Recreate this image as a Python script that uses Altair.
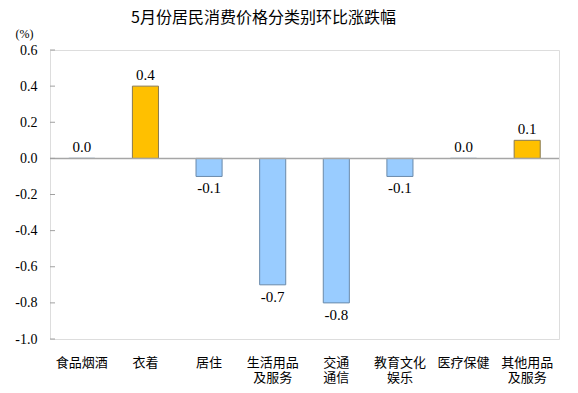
import altair as alt
import pandas as pd

categories = ["食品烟酒", "衣着", "居住", "生活用品\n及服务", "交通\n通信", "教育文化\n娱乐", "医疗保健", "其他用品\n及服务"]
values = [0.0, 0.4, -0.1, -0.7, -0.8, -0.1, 0.0, 0.1]
y_ticks = [-1.0, -0.8, -0.6, -0.4, -0.2, 0.0, 0.2, 0.4, 0.6]
title_text = "5月份居民消费价格分类别环比涨跌幅"
unit_text = "(%)"

df = pd.DataFrame({"cat": categories, "val": values})
df["lbl"] = df["val"].map(lambda v: f"{v:.1f}")
ticks_df = pd.DataFrame({"t": y_ticks})

serif = "Liberation Serif"
cjk = "Noto Sans CJK SC"

x_axis = alt.Axis(
    title=None, labelAngle=0, ticks=False, domain=False,
    labelFont=cjk, labelFontSize=13, labelColor="#000000",
    labelPadding=17, labelLineHeight=15, labelOverlap=False,
    labelExpr="split(datum.label, '\\n')",
)
y_axis = alt.Axis(
    values=y_ticks, grid=False, domain=False, ticks=False,
    labelExpr="replace(format(datum.value, '.1f'), '\u2212', '-')",
    labelFont=serif, labelFontSize=14, labelFontWeight="normal",
    labelColor="#000000", labelPadding=13, labelOverlap=False,
    title=unit_text, titleAngle=0, titleFont=serif, titleFontSize=12,
    titleFontWeight="normal", titleColor="#000000",
    titleX=-35, titleY=-17, titleAlign="left", titleBaseline="middle",
)
x_scale = alt.Scale(paddingInner=0.59, paddingOuter=0.295)
y_scale = alt.Scale(domain=[-1.0, 0.6], nice=False, zero=False)

base = alt.Chart(df)

bars = base.mark_bar(strokeWidth=1).encode(
    x=alt.X("cat:N", sort=categories, scale=x_scale, axis=x_axis),
    y=alt.Y("val:Q", scale=y_scale, axis=y_axis),
    y2=alt.datum(0),
    color=alt.condition("datum.val > 0", alt.value("#FFC000"), alt.value("#99CCFF")),
    stroke=alt.condition("datum.val > 0", alt.value("#8a7a50"), alt.value("#6a8aaa")),
)

zero_line = alt.Chart(pd.DataFrame({"z": [0.0]})).mark_rule(color="#A6A6A6", strokeWidth=1.5).encode(
    y=alt.Y("z:Q", scale=y_scale, axis=y_axis)
)

tick_marks = alt.Chart(ticks_df).mark_rule(color="#A0A0A0", strokeWidth=1).encode(
    y=alt.Y("t:Q", scale=y_scale, axis=y_axis),
    x=alt.value(0),
    x2=alt.value(5),
)

pos_labels = base.transform_filter("datum.val >= 0").mark_text(
    font=serif, fontSize=15, fontWeight="normal", baseline="bottom", dy=-3, color="#000000"
).encode(
    x=alt.X("cat:N", sort=categories, scale=x_scale, axis=x_axis),
    y=alt.Y("val:Q", scale=y_scale, axis=y_axis),
    text="lbl:N",
)

neg_labels = base.transform_filter("datum.val < 0").mark_text(
    font=serif, fontSize=15, fontWeight="normal", baseline="top", dy=5, color="#000000"
).encode(
    x=alt.X("cat:N", sort=categories, scale=x_scale, axis=x_axis),
    y=alt.Y("val:Q", scale=y_scale, axis=y_axis),
    text="lbl:N",
)

chart = alt.layer(bars, zero_line, tick_marks, pos_labels, neg_labels).properties(
    width=509,
    height=289,
    autosize=alt.AutoSizeParams(type="none"),
    padding={"left": 42, "top": 42, "right": 11, "bottom": 46},
    title=alt.TitleParams(
        text=title_text, font=cjk, fontSize=16, fontWeight="normal", color="#000000",
        anchor="middle", dx=-41, offset=1,
    ),
).configure_view(
    stroke="#A6A6A6", strokeWidth=1.5
).configure(background="#ffffff")

chart.save("out.html", embed_options={"renderer": "svg", "actions": False})
